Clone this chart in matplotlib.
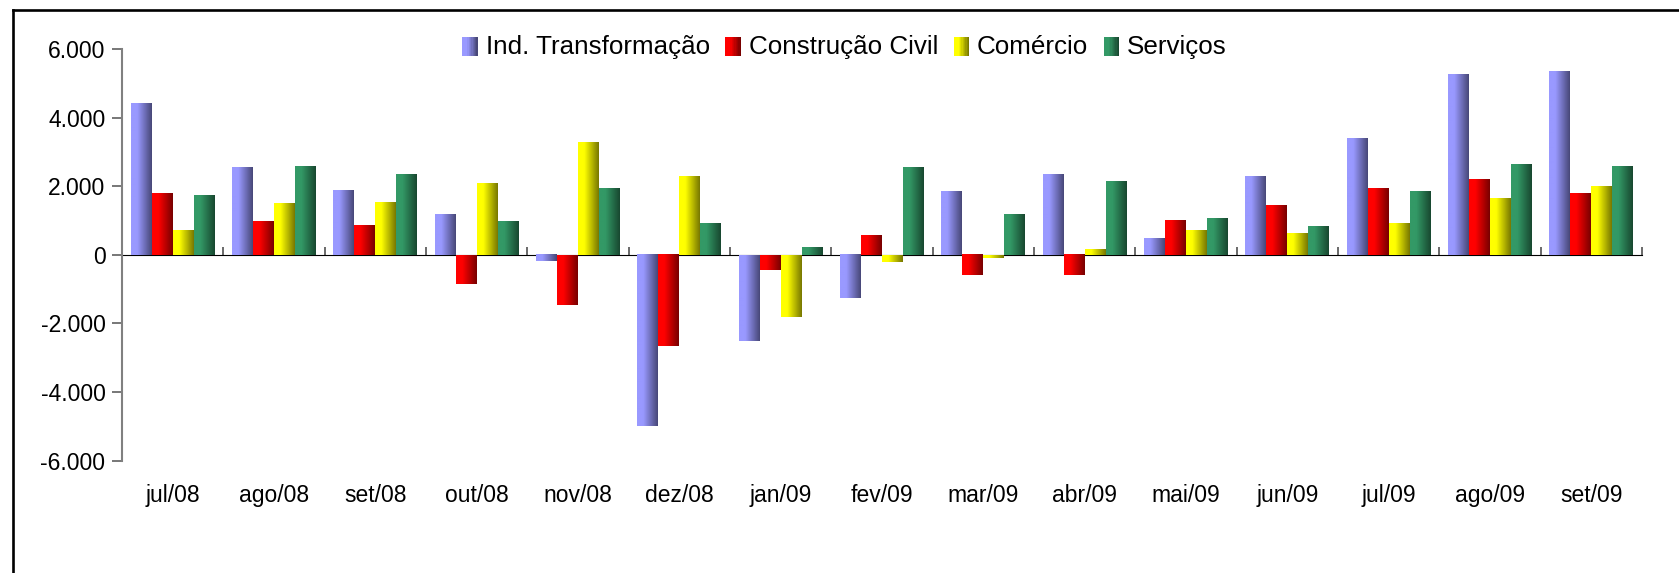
import numpy as np
import matplotlib
matplotlib.use('Agg')
import matplotlib.pyplot as plt
from matplotlib.colors import LinearSegmentedColormap, to_rgb
from matplotlib.legend_handler import HandlerBase
from matplotlib.patches import Rectangle
from matplotlib.lines import Line2D
from matplotlib.ticker import FuncFormatter, FixedLocator

plt.rcParams['font.family'] = ['Liberation Sans', 'DejaVu Sans']

meses = ['jul/08', 'ago/08', 'set/08', 'out/08', 'nov/08', 'dez/08', 'jan/09', 'fev/09',
         'mar/09', 'abr/09', 'mai/09', 'jun/09', 'jul/09', 'ago/09', 'set/09']
ind = [4420, 2540, 1890, 1170, -190, -5000, -2500, -1270, 1840, 2360, 480, 2300, 3410, 5250, 5360]
constr = [1780, 990, 870, -840, -1450, -2670, -430, 580, -600, -600, 1000, 1430, 1950, 2190, 1780]
comercio = [700, 1490, 1540, 2070, 3290, 2300, -1800, -200, -80, 170, 710, 640, 930, 1660, 2010]
servicos = [1720, 2590, 2360, 990, 1950, 930, 230, 2540, 1170, 2130, 1060, 820, 1840, 2650, 2590]

series = [('Ind. Transformação', ind, '#9999FF'),
          ('Construção Civil', constr, '#FF0000'),
          ('Comércio', comercio, '#FFFF00'),
          ('Serviços', servicos, '#339966')]


def make_cmap(base):
    r, g, b = to_rgb(base)
    dark = (r * 0.47, g * 0.47, b * 0.47)
    return LinearSegmentedColormap.from_list('g', [(0, base), (0.3, base), (1, dark)])


fig = plt.figure(figsize=(16.79, 5.73), dpi=100)
ax = fig.add_axes([0.0727, 0.196, 0.9053, 0.7185])

x = np.arange(len(meses)) + 0.5
w = 0.207
grad = np.linspace(0, 1, 64).reshape(1, -1)
handles = []
cmaps = {}
for i, (nome, vals, cor) in enumerate(series):
    cmap = make_cmap(cor)
    cmaps[nome] = cmap
    bars = ax.bar(x + (i - 1.5) * w, vals, w, color='none', edgecolor='none', zorder=2)
    for b in bars:
        x0, y0, bw, bh = b.get_x(), b.get_y(), b.get_width(), b.get_height()
        ax.imshow(grad, cmap=cmap, extent=[x0, x0 + bw, y0, y0 + bh], aspect='auto',
                  zorder=2, interpolation='bilinear')
    handles.append(Rectangle((0, 0), 1, 1, facecolor=cor, label=nome))

ax.set_xlim(0, len(meses))
ax.set_ylim(-6000, 6000)

# y axis
ax.set_yticks(np.arange(-6000, 6001, 2000))
ax.yaxis.set_major_formatter(FuncFormatter(lambda v, p: f'{v:,.0f}'.replace(',', '.')))
ax.tick_params(axis='y', direction='out', length=7, width=1.2, color='#606060',
               labelsize=16.5, pad=5)
for s in ['top', 'right', 'bottom']:
    ax.spines[s].set_visible(False)
ax.spines['left'].set_color('#808080')
ax.spines['left'].set_linewidth(1.5)

# category labels at the bottom, no tick marks
ax.set_xticks(x)
ax.set_xticklabels(meses)
ax.tick_params(axis='x', length=0, labelsize=16.5, pad=17)

# zero line with category boundary ticks
sec = ax.secondary_xaxis(0.5)
sec.xaxis.set_major_locator(FixedLocator(np.arange(0, len(meses) + 1)))
sec.tick_params(axis='x', direction='out', length=6, width=1.2, color='#505050', labelbottom=False)
sec.set_xticklabels([])
sec.spines['bottom'].set_color('#808080')
sec.spines['bottom'].set_linewidth(2)
sec.spines['bottom'].set_zorder(3)


class GradHandler(HandlerBase):
    def create_artists(self, legend, orig, xd, yd, width, height, fontsize, trans):
        cmap = cmaps[orig.get_label()]
        n = 12
        arts = []
        sw = width / n
        for k in range(n):
            r = Rectangle((xd + k * sw, yd - 1), sw * 1.05, height + 2,
                          facecolor=cmap(k / (n - 1)), edgecolor='none', transform=trans)
            arts.append(r)
        return arts


fig.legend(handles=handles, loc='center', bbox_to_anchor=(0.503, 0.918), ncol=4,
           frameon=False, fontsize=18.7, handlelength=0.6, handleheight=0.6,
           handletextpad=0.3, columnspacing=0.6,
           handler_map={Rectangle: GradHandler()})

# frame fragments (left and top)
fig.add_artist(Line2D([12.5 / 1679, 12.5 / 1679], [0, 1 - 9.5 / 573], transform=fig.transFigure,
                      color='black', lw=1.9))
fig.add_artist(Line2D([12.5 / 1679, 1], [1 - 9.5 / 573, 1 - 9.5 / 573], transform=fig.transFigure,
                      color='black', lw=1.9))

fig.savefig('out.png', dpi=100)
